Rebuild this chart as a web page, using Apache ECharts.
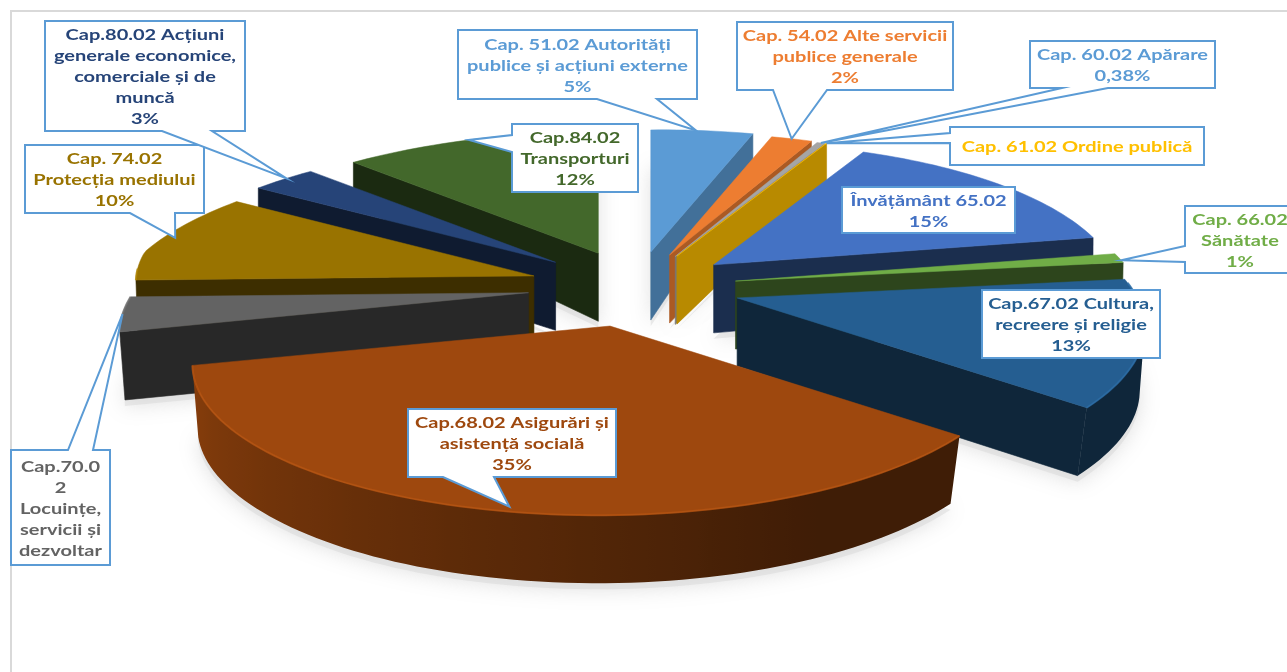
<!DOCTYPE html>
<html>
<head>
<meta charset="utf-8">
<style>html,body{margin:0;padding:0;background:#fff}#chart{width:1287px;height:672px}</style>
<script src="https://cdn.jsdelivr.net/npm/echarts@6/dist/echarts.min.js"></script>
</head>
<body>
<div id="chart"></div>
<script>
// Budget chapters, clockwise from the back of the pie
const chapters = ['51.02','54.02','60.02','61.02','65.02','66.02','67.02','68.02','70.02','74.02','80.02','84.02'];
const shares = [5, 2, 0.38, 0.02, 15, 1, 13, 35, 3.6, 10, 3, 12];
const sliceColors = ['#5B9BD5','#ED7D31','#A5A5A5','#FFC000','#4472C4','#70AD47','#255E91','#9E480E','#636363','#997300','#264478','#43682B'];
const labelColors = ['#5B9BD5','#ED7D31','#5B9BD5','#FFC000','#4472C4','#70AD47','#255E91','#9E480E','#636363','#997300','#264478','#43682B'];
const labelTexts = [
  'Cap. 51.02 Autorități\npublice și acțiuni externe\n5%',
  'Cap. 54.02 Alte servicii\npublice generale\n2%',
  'Cap. 60.02 Apărare\n0,38%',
  'Cap. 61.02 Ordine publică',
  'Învățământ 65.02\n15%',
  'Cap. 66.02\nSănătate\n1%',
  'Cap.67.02 Cultura,\nrecreere și religie\n13%',
  'Cap.68.02 Asigurări și\nasistență socială\n35%',
  'Cap.70.0\n2\nLocuințe,\nservicii și\ndezvoltar',
  'Cap. 74.02\nProtecția mediului\n10%',
  'Cap.80.02 Acțiuni\ngenerale economice,\ncomerciale și de\nmuncă\n3%',
  'Cap.84.02\nTransporturi\n12%'
];

// Explosion of each slice, as a fraction of the radius
const explosion = [.25,.24,.236,.24,.25,.254,.262,.255,.27,.27,.27,.26];

// Perspective camera for the tilted pie
const view = { cx: 636, cy: 287, a: 398, b: 148.4, p: 0.215, roll: 0.0105, backStretch: 0.04, nearFlare: 0.1, depth: 68, backLoss: 35 };

// Callout boxes [x0,y0,x1,y1], tail base on one edge, anchor on the slice [angle fraction, radius]
const callouts = [
  { box:[458,30,697,99],   side:'b', base:[597,657], anchor:[.44,1] },
  { box:[737,22,953,90],   side:'b', base:[773,827], anchor:[.5,1] },
  { box:[1030,41,1215,88], side:'b', base:[1062,1108], anchor:[.5,1] },
  { box:[950,127,1204,165],side:'l', base:[133,143], anchor:[1,1] },
  { box:[842,187,1015,233] },
  { box:[1185,206,1295,273],side:'l', base:[246,262], anchor:[.75,1] },
  { box:[982,290,1160,358] },
  { box:[408,409,616,477], side:'b', base:[443,494], anchor:[.48,.98] },
  { box:[11,450,110,565],  side:'t', base:[68,93], anchor:[.5,1] },
  { box:[25,145,204,213],  side:'b', base:[130,175], anchor:[.5,.97] },
  { box:[45,21,245,131],   side:'b', base:[162,212], anchor:[.55,1] },
  { box:[512,124,638,192], side:'l', base:[135,152], anchor:[.49,1] }
];
const labelFont = { family:'Lato', size:16, stretch:1.25, lineHeight:21 };

const total = shares.reduce((s, v) => s + v, 0);
const RAD = Math.PI / 180;
const spans = [];
shares.reduce((acc, v) => {
  const next = acc + v / total * 360;
  spans.push([acc, next]);
  return next;
}, 0);

// Projects a point of the pie plane, given relative to the slice's own tip
function local(theta, r, flare) {
  const x = r * Math.sin(theta * RAD), y = -r * Math.cos(theta * RAD);
  const s = 1 / (1 - view.p * y);
  let stretch = 1;
  if (x < 0) stretch += y < 0 ? view.backStretch * Math.min(1, -y / 0.2) : flare * Math.min(1, y / 0.2);
  const dx = view.a * x * s * stretch;
  return { dx, dy: view.b * y * s - view.roll * dx, y };
}
// Slices pushed towards the viewer spread a little wider on their left
function sliceFlare(i) {
  const mid = (spans[i][0] + spans[i][1]) / 2;
  return Math.max(0, -Math.cos(mid * RAD) * explosion[i]) * view.nearFlare;
}
function sliceTip(i) {
  const mid = (spans[i][0] + spans[i][1]) / 2;
  const q = local(mid, explosion[i], 0);
  return [view.cx + q.dx, view.cy + q.dy];
}
function topPoint(i, theta, r) {
  const t = sliceTip(i), q = local(theta, r, sliceFlare(i));
  return [t[0] + q.dx, t[1] + q.dy];
}
function bottomPoint(i, theta, r) {
  const t = sliceTip(i), q = local(theta, r, sliceFlare(i));
  const drop = view.depth - view.backLoss * Math.max(0, -q.y);
  const narrow = 1 - 0.03 * Math.min(1, Math.max(0, q.y + 0.2));
  return [t[0] + q.dx * narrow, t[1] + q.dy + drop];
}
function shade(hex, f) {
  const n = parseInt(hex.slice(1), 16);
  const ch = v => Math.max(0, Math.min(255, Math.round(v * f)));
  return 'rgb(' + ch(n >> 16) + ',' + ch((n >> 8) & 255) + ',' + ch(n & 255) + ')';
}
function arcAngles(i) {
  const [a0, a1] = spans[i], list = [a0];
  const n = Math.max(1, Math.ceil((a1 - a0) / 1.5));
  for (let k = 1; k <= n; k++) list.push(a0 + (a1 - a0) * k / n);
  return list;
}
function signedArea(poly) {
  let s = 0;
  poly.forEach((p, k) => {
    const q = poly[(k + 1) % poly.length];
    s += p[0] * q[1] - q[0] * p[1];
  });
  return s;
}
function radialShade(normal) { return normal < 140 ? 0.72 : 0.4; }
function arcShade(theta) { return Math.max(0.4, Math.min(0.9, 0.4 + 0.47 * (theta - 156) / 101)); }

// Slices closest to the back are painted first
const rank = shares.map((_, i) => i).sort((p, q) => {
  const d = i => Math.abs((spans[i][0] + spans[i][1]) / 2 - 180);
  return d(q) - d(p);
});

function renderSlice(params) {
  const i = rank[params.dataIndex], [a0, a1] = spans[i], color = sliceColors[i];
  const z = params.dataIndex * 10 + 10, children = [];
  const wall = (p, q, q2, p2, f) => {
    const poly = [p, q, q2, p2];
    if (signedArea(poly) >= -0.01) return;
    const fill = shade(color, f);
    children.push({ type:'polygon', z2:z, shape:{ points:poly }, style:{ fill, stroke:fill, lineWidth:0.6 } });
  };
  // Radial walls, left out where they face away
  wall(topPoint(i,a0,0), topPoint(i,a0,1), bottomPoint(i,a0,1), bottomPoint(i,a0,0), radialShade(a0 - 90));
  wall(topPoint(i,a1,1), topPoint(i,a1,0), bottomPoint(i,a1,0), bottomPoint(i,a1,1), radialShade(a1 + 90));
  // Outer wall: the visible stretch of the arc, shaded with the angle
  const angles = arcAngles(i);
  const front = angles.filter((t, k) => {
    const u = k + 1 < angles.length ? angles[k + 1] : t + 0.01;
    const v = k + 1 < angles.length ? t : t - 0.01;
    return signedArea([topPoint(i,v,1), topPoint(i,u,1), bottomPoint(i,u,1), bottomPoint(i,v,1)]) < 0;
  });
  if (front.length > 1) {
    const upper = front.map(t => topPoint(i,t,1)), lower = front.map(t => bottomPoint(i,t,1)).reverse();
    const xs = upper.map(p => p[0]), xMin = Math.min(...xs), xMax = Math.max(...xs);
    const stops = front.map((t, k) => ({ offset: (xs[k] - xMin) / Math.max(1, xMax - xMin), color: shade(color, arcShade(t)) }))
      .sort((m, n) => m.offset - n.offset);
    const fill = new echarts.graphic.LinearGradient(xMin, 0, xMax, 0, stops, true);
    children.push({ type:'polygon', z2:z, shape:{ points:upper.concat(lower) }, style:{ fill } });
  }
  // Top surface
  const top = [topPoint(i,a0,0)].concat(angles.map(t => topPoint(i,t,1)));
  children.push({ type:'polygon', z2:z + 1, shape:{ points:top }, style:{ fill:color, stroke:color, lineWidth:0.5 } });
  // Bevel along the near part of the rim
  const near = angles.filter(t => Math.cos(t * RAD) < 0.1);
  if (near.length > 1) {
    children.push({ type:'polyline', z2:z + 2, shape:{ points:near.map(t => topPoint(i,t,1)) },
      style:{ fill:null, stroke:shade(color, 1.14), lineWidth:2, opacity:0.8 } });
  }
  return { type:'group', children };
}

function renderShadow(params) {
  const i = params.dataIndex, angles = arcAngles(i);
  const pts = [bottomPoint(i, spans[i][0], 0)].concat(angles.map(t => bottomPoint(i, t, 1)))
    .map(p => [p[0], p[1] + 6]);
  return { type:'polygon', shape:{ points:pts },
    style:{ fill:'rgba(215,215,215,0.5)', shadowBlur:20, shadowColor:'rgba(130,130,130,0.5)' } };
}

function renderCallout(params) {
  const i = params.dataIndex, c = callouts[i], [x0, y0, x1, y1] = c.box;
  let pts = [[x0,y0],[x1,y0],[x1,y1],[x0,y1]];
  if (c.side) {
    const a = spans[i][0] + (spans[i][1] - spans[i][0]) * c.anchor[0];
    const tip = topPoint(i, a, c.anchor[1]);
    if (c.side === 'b') pts = [[x0,y0],[x1,y0],[x1,y1],[c.base[1],y1],tip,[c.base[0],y1],[x0,y1]];
    if (c.side === 't') pts = [[x0,y0],[c.base[0],y0],tip,[c.base[1],y0],[x1,y0],[x1,y1],[x0,y1]];
    if (c.side === 'l') pts = [[x0,y0],[x1,y0],[x1,y1],[x0,y1],[x0,c.base[1]],tip,[x0,c.base[0]]];
  }
  return { type:'group', children:[
    { type:'polygon', shape:{ points:pts }, style:{ fill:'#fff', stroke:'#5B9BD5', lineWidth:2 } },
    { type:'text', z2:2, x:(x0 + x1) / 2, y:(y0 + y1) / 2 + 1, scaleX:labelFont.stretch,
      style:{ text:labelTexts[i], x:0, y:0,
        align:'center', verticalAlign:'middle', fill:labelColors[i], lineHeight:labelFont.lineHeight,
        fontFamily:labelFont.family, fontWeight:700, fontSize:labelFont.size } }
  ] };
}

const chart = echarts.init(document.getElementById('chart'), null, { renderer:'canvas' });
chart.setOption({
  animation:false,
  backgroundColor:'#fff',
  graphic:[{ type:'polyline', silent:true, z:0, shape:{ points:[[11,672],[11,11],[1287,11]] },
    style:{ fill:null, stroke:'#D9D9D9', lineWidth:2 } }],
  series:[
    { type:'custom', z:1, silent:true, clip:false, coordinateSystem:'none', data:shares, renderItem:renderShadow },
    { type:'custom', z:2, silent:true, clip:false, coordinateSystem:'none', data:rank.map(i => shares[i]), renderItem:renderSlice },
    { type:'custom', z:3, silent:true, clip:false, coordinateSystem:'none', data:chapters, renderItem:renderCallout }
  ]
});
</script>
</body>
</html>
